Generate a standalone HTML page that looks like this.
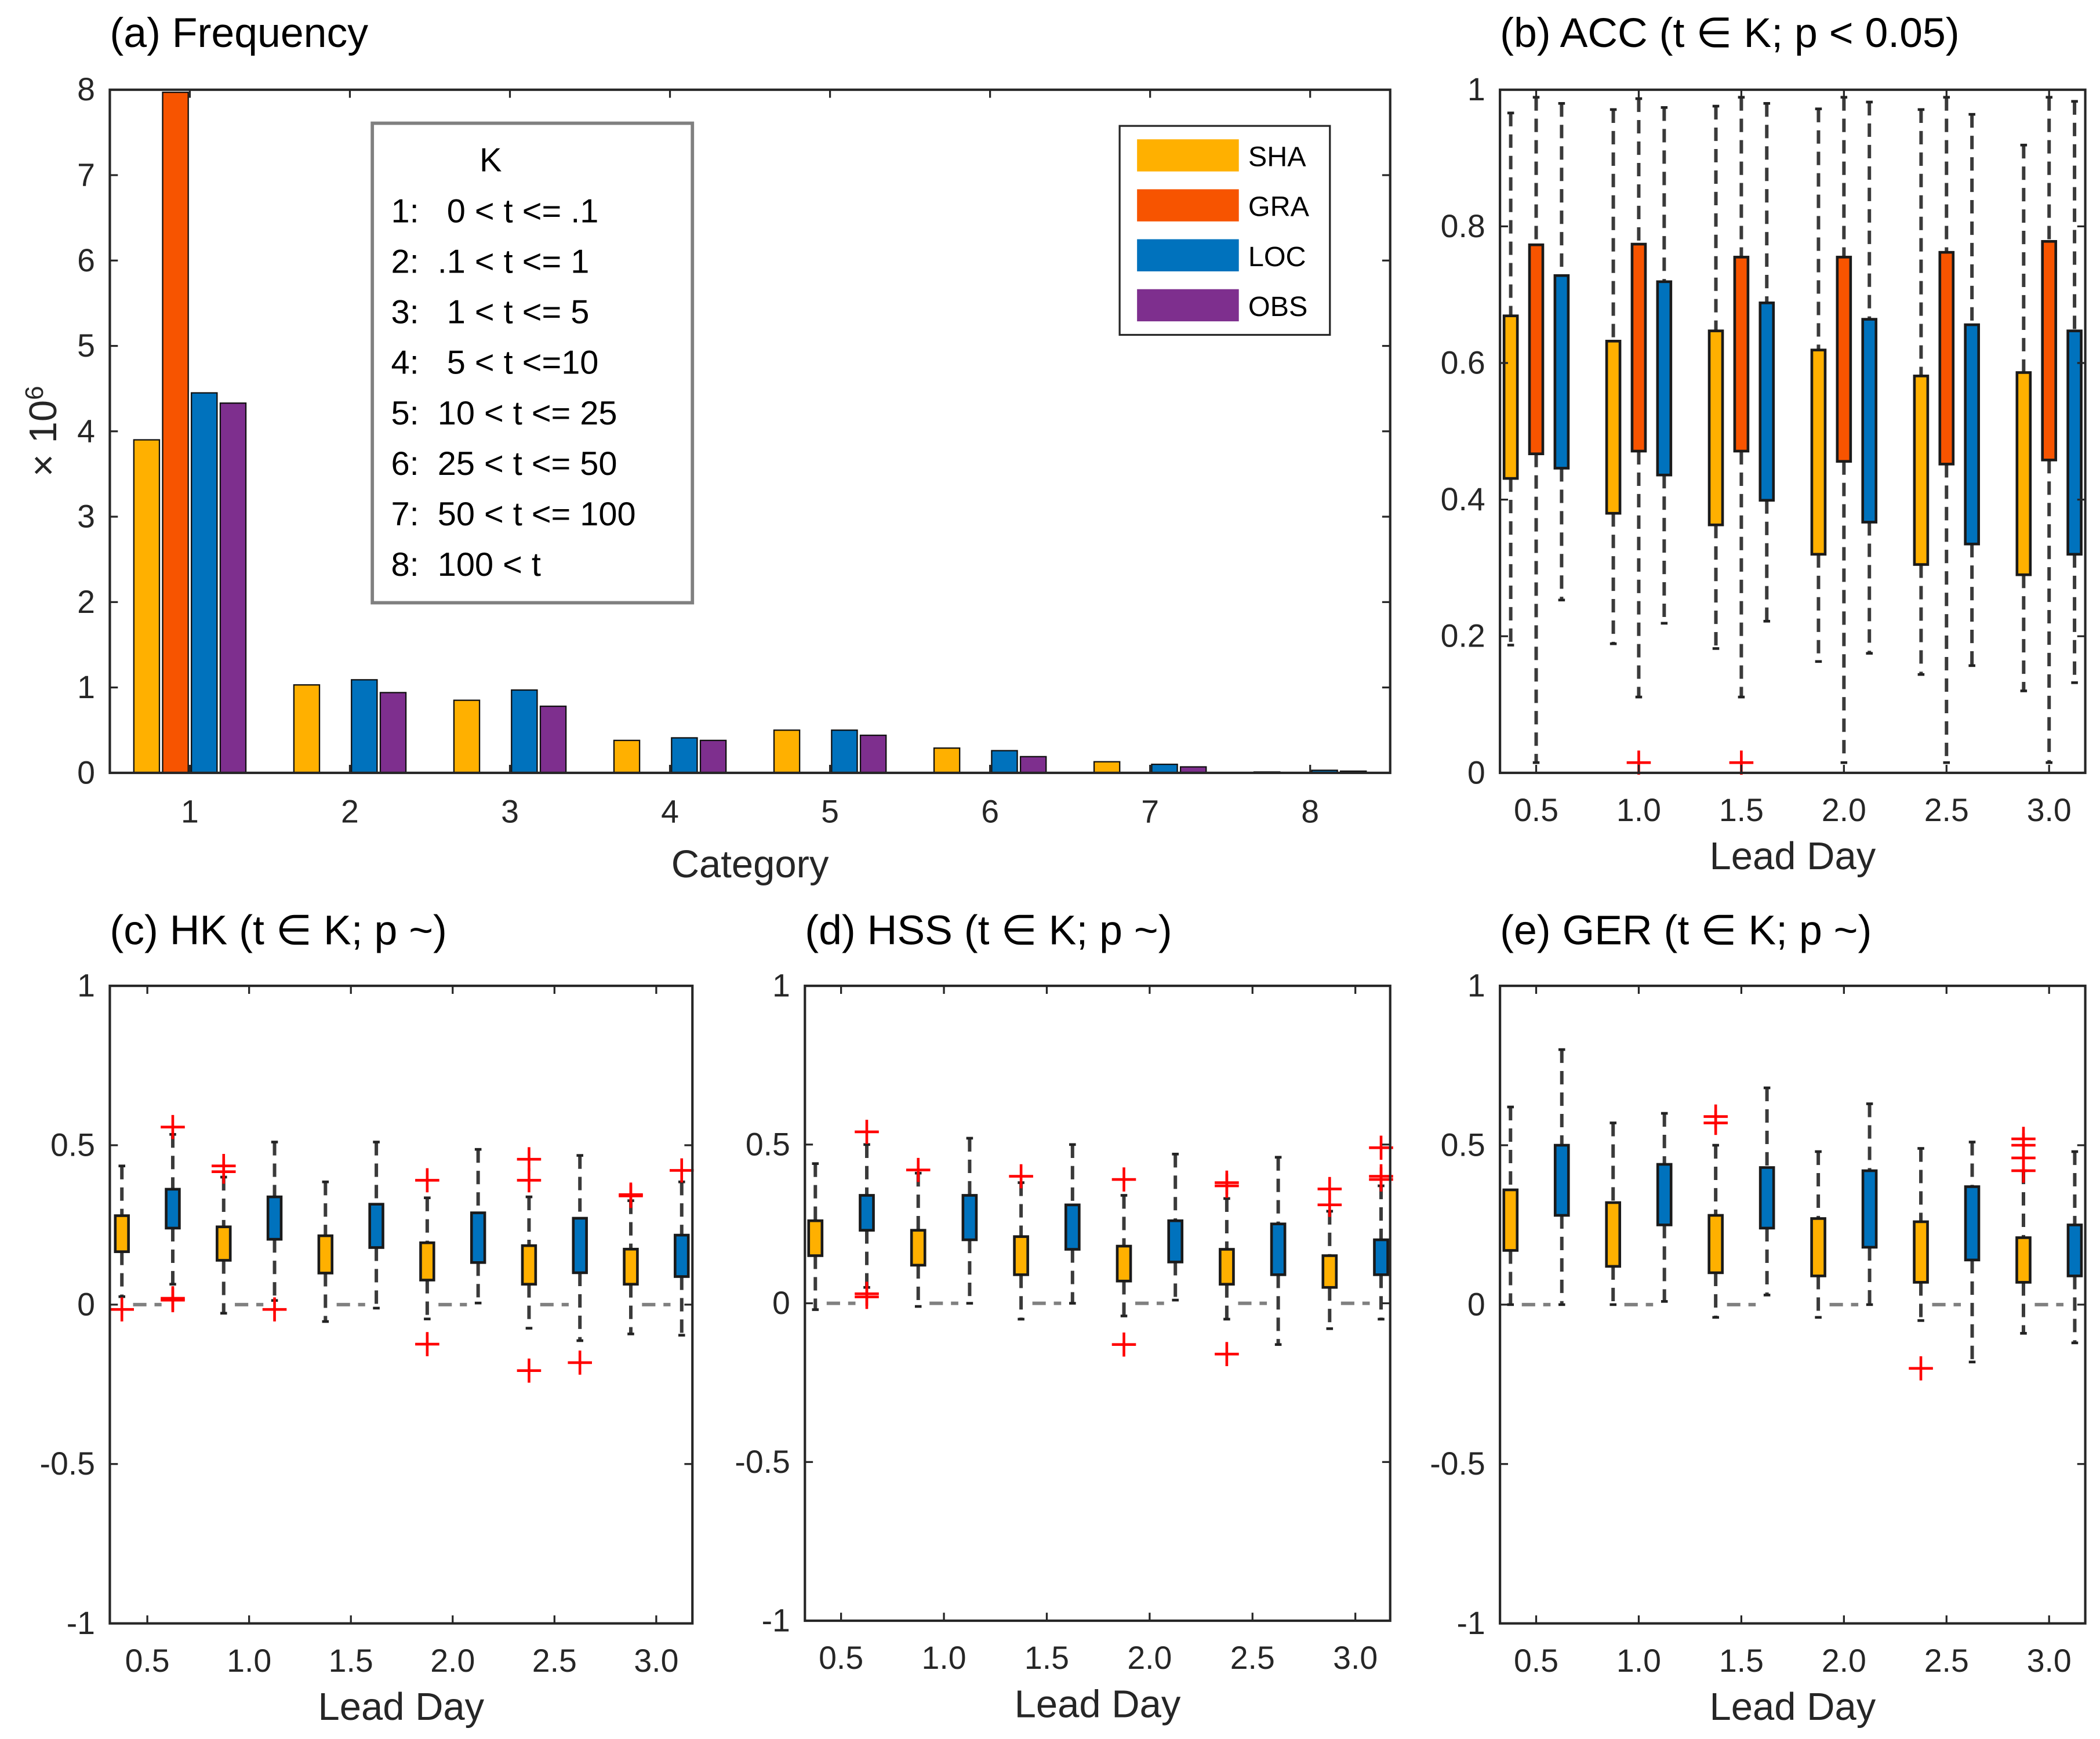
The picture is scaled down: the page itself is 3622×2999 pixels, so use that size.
<!DOCTYPE html>
<html><head><meta charset="utf-8"><style>
html,body{margin:0;padding:0;background:#fff;}
svg{display:block;font-family:"Liberation Sans",Arial,sans-serif;}
</style></head>
<body>
<svg id="fig" width="3622" height="2999" viewBox="0 0 1568 1298.3" xmlns="http://www.w3.org/2000/svg"></svg>
<script>
// ---- Panel (a) data ----
const catLabels = ["1","2","3","4","5","6","7","8"];
const seriesNames = ["SHA","GRA","LOC","OBS"];
const shaFreq = [3.9,1.03,0.85,0.38,0.5,0.29,0.13,0.01];
const graFreq = [7.97,0,0,0,0,0,0,0];
const locFreq = [4.45,1.09,0.97,0.41,0.5,0.26,0.1,0.03];
const obsFreq = [4.33,0.94,0.78,0.38,0.44,0.19,0.07,0.02];
const freqTicks = [0,1,2,3,4,5,6,7,8];
const leadDays = [0.5,1.0,1.5,2.0,2.5,3.0];
const leadLabels = ["0.5","1.0","1.5","2.0","2.5","3.0"];
// ---- Panel (b) ACC: [whiskerTop, Q3, Q1, whiskerLow] ----
const accSHA = [[0.966,0.669,0.431,0.187],[0.971,0.632,0.380,0.189],[0.976,0.647,0.363,0.182],[0.972,0.619,0.320,0.163],[0.971,0.581,0.305,0.144],[0.919,0.586,0.290,0.120]];
const accGRA = [[0.989,0.773,0.467,0.015],[0.987,0.774,0.471,0.111],[0.989,0.755,0.471,0.111],[0.989,0.755,0.456,0.015],[0.989,0.762,0.452,0.015],[0.989,0.778,0.458,0.015]];
const accLOC = [[0.980,0.728,0.446,0.253],[0.974,0.719,0.436,0.219],[0.980,0.688,0.399,0.222],[0.982,0.664,0.367,0.175],[0.964,0.656,0.335,0.157],[0.983,0.647,0.320,0.132]];
const accGRAOut = [[],[0.015],[0.015],[],[],[]];
const accTicks = [0,0.2,0.4,0.6,0.8,1];
const accTickLabels = ["0","0.2","0.4","0.6","0.8","1"];
// ---- Panel (c) HK ----
const hkSHA = [[0.435,0.279,0.166,0.025],[0.40,0.244,0.139,-0.027],[0.385,0.216,0.099,-0.053],[0.335,0.194,0.077,-0.045],[0.338,0.185,0.064,-0.074],[0.326,0.174,0.064,-0.092]];
const hkLOC = [[0.534,0.362,0.24,0.064],[0.51,0.338,0.205,0.013],[0.51,0.315,0.179,-0.011],[0.487,0.288,0.132,0.005],[0.468,0.271,0.10,-0.113],[0.385,0.218,0.088,-0.096]];
const hkSHAOut = [[-0.015],[0.435,0.417],[],[0.39,-0.124],[0.456,0.39,-0.207],[0.345,0.341]];
const hkLOCOut = [[0.557,0.02,0.014],[-0.015],[],[],[-0.182],[0.421]];
// ---- Panel (d) HSS ----
const hssSHA = [[0.44,0.26,0.15,-0.02],[0.41,0.23,0.12,-0.01],[0.38,0.21,0.09,-0.05],[0.34,0.18,0.07,-0.04],[0.33,0.17,0.06,-0.05],[0.29,0.15,0.05,-0.08]];
const hssLOC = [[0.5,0.34,0.23,0.05],[0.52,0.34,0.2,0.0],[0.5,0.31,0.17,0.0],[0.47,0.26,0.13,0.01],[0.46,0.25,0.09,-0.13],[0.37,0.2,0.09,-0.05]];
const hssSHAOut = [[],[0.42],[0.40],[0.39,-0.13],[0.38,0.37,-0.16],[0.36,0.31]];
const hssLOCOut = [[0.54,0.02,0.03],[],[],[],[],[0.49,0.40,0.39]];
// ---- Panel (e) GER ----
const gerSHA = [[0.62,0.36,0.17,0.0],[0.57,0.32,0.12,0.0],[0.5,0.28,0.1,-0.04],[0.48,0.27,0.09,-0.04],[0.49,0.26,0.07,-0.05],[0.42,0.21,0.07,-0.09]];
const gerLOC = [[0.8,0.5,0.28,0.0],[0.6,0.44,0.25,0.01],[0.68,0.43,0.24,0.03],[0.63,0.42,0.18,0.0],[0.51,0.37,0.14,-0.18],[0.48,0.25,0.09,-0.12]];
const gerSHAOut = [[],[],[0.59,0.57],[],[-0.2],[0.52,0.50,0.46,0.42]];
const gerLOCOut = [[],[],[],[],[],[]];
const skillTicks = [-1,-0.5,0,0.5,1];
const skillTickLabels = ["-1","-0.5","0","0.5","1"];

const C = {SHA:"#FFB000",GRA:"#F75400",LOC:"#0072BD",OBS:"#7E2F8E"};
const FT=24, FTITLE=31, FXL=29;
const NS="http://www.w3.org/2000/svg";
const svg=document.getElementById('fig');
function el(tag,attrs,parent,text){const e=document.createElementNS(NS,tag);for(const k in attrs)e.setAttribute(k,attrs[k]);if(text!==undefined)e.textContent=text;(parent||svg).appendChild(e);return e;}
function lin(d0,d1,r0,r1){return v=>r0+(v-d0)*(r1-r0)/(d1-d0);}

function axesFrame(g,L,T,R,B,name){
  const f=el('rect',{x:L,y:T,width:R-L,height:B-T,fill:'none',stroke:'#262626','stroke-width':1.8},g);
  
  
}
function yTicks(g,L,R,sy,ticks,labels,name){
  ticks.forEach((t,i)=>{
    const y=sy(t);
    el('line',{x1:L,x2:L+6,y1:y,y2:y,stroke:'#262626','stroke-width':1.4},g);
    el('line',{x1:R,x2:R-6,y1:y,y2:y,stroke:'#262626','stroke-width':1.4},g);
    const tx=el('text',{x:L-11,y:y+8,'text-anchor':'end','font-size':FT,fill:'#262626'},g,labels[i]);
    
    
  });
}
function xTicks(g,T,B,sx,ticks,labels,name,ly){
  ticks.forEach((t,i)=>{
    const x=sx(t);
    el('line',{x1:x,x2:x,y1:B,y2:B-6,stroke:'#262626','stroke-width':1.4},g);
    el('line',{x1:x,x2:x,y1:T,y2:T+6,stroke:'#262626','stroke-width':1.4},g);
    const tx=el('text',{x:x,y:ly,'text-anchor':'middle','font-size':FT,fill:'#262626'},g,labels[i]);
    
    
  });
}
function title(g,x,y,s,name){
  const t=el('text',{x:x,y:y,'font-size':FTITLE,fill:'#000'},g,s);
  
  
}
function xlabel(g,x,y,s,name){
  const t=el('text',{x:x,y:y,'text-anchor':'middle','font-size':FXL,fill:'#262626'},g,s);
  
  
}
function drawBox(g,x,w,sy,q,color,name){
  const [top,q3,q1,low]=q;
  const wl={stroke:'#3a3a3a','stroke-width':2.6,'stroke-dasharray':'10,6'};
  el('line',Object.assign({x1:x,x2:x,y1:sy(top),y2:sy(q3)},wl),g);
  el('line',Object.assign({x1:x,x2:x,y1:sy(q1),y2:sy(low)},wl),g);
  el('line',{x1:x-2.5,x2:x+2.5,y1:sy(top),y2:sy(top),stroke:'#222','stroke-width':2},g);
  el('line',{x1:x-2.5,x2:x+2.5,y1:sy(low),y2:sy(low),stroke:'#222','stroke-width':2},g);
  const r=el('rect',{x:x-w/2,y:sy(q3),width:w,height:Math.max(1,sy(q1)-sy(q3)),fill:color,stroke:'#1a1a1a','stroke-width':2},g);
  
  
}
function drawOut(g,x,sy,vals,name){
  vals.forEach(v=>{
    const y=sy(v);
    const p=el('path',{d:`M${x-9},${y}H${x+9}M${x},${y-9}V${y+9}`,stroke:'#FF0000','stroke-width':2,fill:'none'},g);
    
    
  });
}

// ===== Panel (a) =====
(function(){
  const g=el('g',{});
  
  
  const L=82,R=1038,T=67,B=577;
  const sx=lin(0.5,8.5,L,R), sy=lin(0,8,B,T);
  const offs=[-0.27,-0.09,0.09,0.27], bw=0.16;
  const series=[shaFreq,graFreq,locFreq,obsFreq];
  series.forEach((s,si)=>{
    s.forEach((v,i)=>{
      const x0=sx(i+1+offs[si]-bw/2), x1=sx(i+1+offs[si]+bw/2);
      const r=el('rect',{x:x0,y:sy(v),width:x1-x0,height:sy(0)-sy(v),fill:C[seriesNames[si]],stroke:'#111','stroke-width':1},g);
      
      
    });
  });
  axesFrame(g,L,T,R,B,'panel-a');
  yTicks(g,L,R,sy,freqTicks,freqTicks.map(String),'panel-a');
  xTicks(g,T,B,sx,[1,2,3,4,5,6,7,8],catLabels,'panel-a',614);
  title(g,82,35,'(a) Frequency','panel-a');
  xlabel(g,560,655,'Category','panel-a');
  const yl=el('text',{x:0,y:0,'font-size':FXL,fill:'#262626','text-anchor':'middle',transform:'translate(42,322) rotate(-90)'},g);
  
  
  el('tspan',{},yl,'× 10');
  el('tspan',{dy:-10,'font-size':19},yl,'6');
  // K box
  const kb=el('g',{},g);
  
  
  el('rect',{x:278,y:92,width:239,height:358,fill:'#fff',stroke:'#808080','stroke-width':2.5},kb);
  el('text',{x:358,y:128,'font-size':25},kb,'K');
  const klines=['1:   0 < t <= .1','2:  .1 < t <= 1','3:   1 < t <= 5','4:   5 < t <=10','5:  10 < t <= 25','6:  25 < t <= 50','7:  50 < t <= 100','8:  100 < t'];
  klines.forEach((s,i)=>{const t=el('text',{x:292,y:166+i*37.7,'font-size':25},kb,s);t.style.whiteSpace='pre';});
  // legend
  const lg=el('g',{},g);
  
  
  el('rect',{x:836,y:94,width:157,height:156,fill:'#fff',stroke:'#262626','stroke-width':1.4},lg);
  seriesNames.forEach((n,i)=>{
    const e=el('g',{},lg);
    
    
    el('rect',{x:849,y:104+i*37.3,width:76,height:24,fill:C[n]},e);
    el('text',{x:932,y:124+i*37.3,'font-size':21},e,n);
  });
})();

// ===== Boxplot panels =====
function boxPanel(cfg){
  const g=el('g',{});
  
  
  const {L,R,T,B}=cfg;
  const sx=lin(0.5,3.0,cfg.x05,cfg.x30), sy=lin(cfg.y0,cfg.y1,B,T);
  const w=sx(0.5+0.065)-sx(0.5);
  leadDays.forEach((d,i)=>{
    if(cfg.gra){
      drawBox(g,sx(d),w,sy,cfg.gra[i],C.GRA,'box-gra-'+leadLabels[i]);
    } else {
      const z=el('line',{x1:sx(d-0.07),x2:sx(d+0.07),y1:sy(0),y2:sy(0),stroke:'#808080','stroke-width':2.6,'stroke-dasharray':'10,6'},g);
      
      
    }
    drawBox(g,sx(d-cfg.off),w,sy,cfg.sha[i],C.SHA,'box-sha-'+leadLabels[i]);
    drawBox(g,sx(d+cfg.off),w,sy,cfg.loc[i],C.LOC,'box-loc-'+leadLabels[i]);
    if(cfg.shaOut) drawOut(g,sx(d-cfg.off),sy,cfg.shaOut[i],'outlier-sha');
    if(cfg.locOut) drawOut(g,sx(d+cfg.off),sy,cfg.locOut[i],'outlier-loc');
    if(cfg.graOut) drawOut(g,sx(d),sy,cfg.graOut[i],'outlier-gra');
  });
  axesFrame(g,L,T,R,B,cfg.name);
  yTicks(g,L,R,sy,cfg.ticks,cfg.tickLabels,cfg.name);
  xTicks(g,T,B,sx,leadDays,leadLabels,cfg.name,B+36);
  title(g,L,cfg.titleY,cfg.title,cfg.name);
  xlabel(g,(L+R)/2,B+72,'Lead Day',cfg.name);
}
boxPanel({name:'panel-b-acc',L:1120,R:1557,T:67,B:577,x05:1147,x30:1530,y0:0,y1:1,off:0.124,
  sha:accSHA,gra:accGRA,loc:accLOC,graOut:accGRAOut,ticks:accTicks,tickLabels:accTickLabels,title:'(b) ACC (t ∈ K; p < 0.05)',titleY:35});
boxPanel({name:'panel-c-hk',L:82,R:517,T:736,B:1212,x05:110,x30:490,y0:-1,y1:1,off:0.125,
  sha:hkSHA,loc:hkLOC,shaOut:hkSHAOut,locOut:hkLOCOut,ticks:skillTicks,tickLabels:skillTickLabels,title:'(c) HK (t ∈ K; p ~)',titleY:705});
boxPanel({name:'panel-d-hss',L:601,R:1038,T:736,B:1210,x05:628,x30:1012,y0:-1,y1:1,off:0.125,
  sha:hssSHA,loc:hssLOC,shaOut:hssSHAOut,locOut:hssLOCOut,ticks:skillTicks,tickLabels:skillTickLabels,title:'(d) HSS (t ∈ K; p ~)',titleY:705});
boxPanel({name:'panel-e-ger',L:1120,R:1557,T:736,B:1212,x05:1147,x30:1530,y0:-1,y1:1,off:0.125,
  sha:gerSHA,loc:gerLOC,shaOut:gerSHAOut,locOut:gerLOCOut,ticks:skillTicks,tickLabels:skillTickLabels,title:'(e) GER (t ∈ K; p ~)',titleY:705});
</script>
</body></html>
